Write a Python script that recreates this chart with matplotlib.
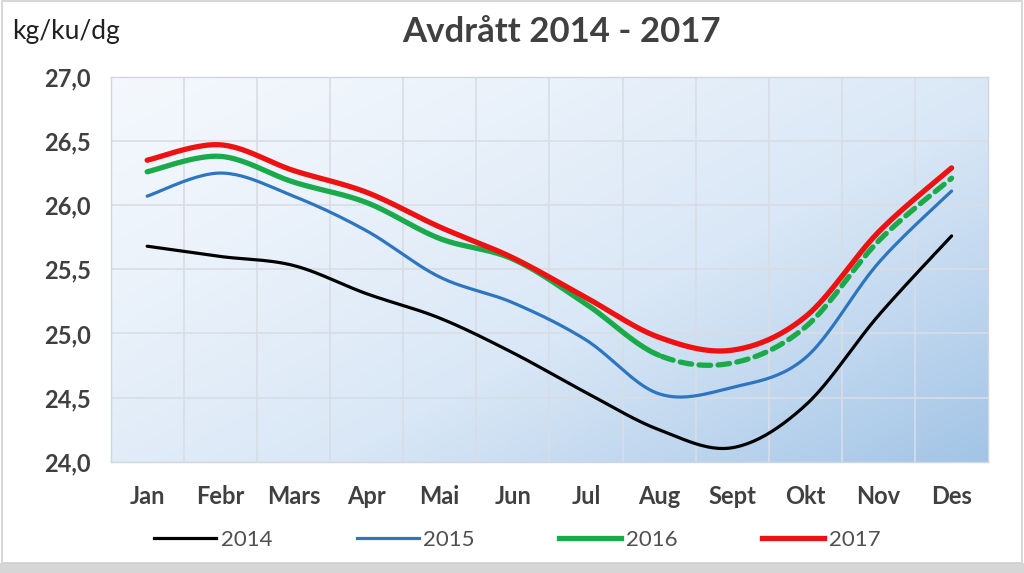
# Avdrått 2014 - 2017 : linjediagram med glattede kurver
import numpy as np
import matplotlib.pyplot as plt
from matplotlib.colors import LinearSegmentedColormap
from matplotlib.patches import Rectangle
from matplotlib.lines import Line2D

plt.rcParams['font.family'] = ['Lato', 'DejaVu Sans']

# data lest av figuren
maneder = ["Jan", "Febr", "Mars", "Apr", "Mai", "Jun", "Jul", "Aug", "Sept", "Okt", "Nov", "Des"]
aar_2014 = [25.68, 25.60, 25.53, 25.31, 25.12, 24.85, 24.54, 24.25, 24.11, 24.44, 25.14, 25.76]
aar_2015 = [26.07, 26.25, 26.07, 25.80, 25.44, 25.24, 24.95, 24.53, 24.58, 24.81, 25.55, 26.11]
aar_2016 = [26.26, 26.38, 26.18, 26.02, 25.74, 25.58, 25.23, 24.83, 24.77, 25.05, 25.72, 26.21]
aar_2017 = [26.35, 26.47, 26.27, 26.10, 25.83, 25.59, 25.28, 24.97, 24.87, 25.13, 25.79, 26.29]
start_prognose = 7  # 2016 stiplet fra Aug


def glatt(x, y, n=24):
    # Catmull-Rom, omtrent som Excel sin "glattet linje"
    pts = np.column_stack([x, y]).astype(float)
    p = np.vstack([pts[0], pts, pts[-1]])
    ut = []
    t = np.linspace(0, 1, n, endpoint=False)[:, None]
    for i in range(1, len(p) - 2):
        p0, p1, p2, p3 = p[i - 1], p[i], p[i + 1], p[i + 2]
        seg = 0.5 * (2 * p1 + (-p0 + p2) * t + (2 * p0 - 5 * p1 + 4 * p2 - p3) * t ** 2
                     + (-p0 + 3 * p1 - 3 * p2 + p3) * t ** 3)
        ut.append(seg)
    ut.append(p[-2][None])
    return np.vstack(ut)


fig = plt.figure(figsize=(10.24, 5.73), dpi=100)
fig.patch.set_facecolor('white')

# ramme og skygge
fig.add_artist(Rectangle((0.0, 0.0), 1.0, 0.017, transform=fig.transFigure,
                         facecolor='#d6d6d6', edgecolor='none'))
fig.add_artist(Rectangle((0.002, 0.017), 0.996, 0.981, transform=fig.transFigure,
                         facecolor='none', edgecolor='#d0d0d0', lw=1.2))

ax = fig.add_axes([0.108, 0.194, 0.857, 0.672])
x = np.arange(len(maneder))

# gradient bakgrunn
gx, gy = np.meshgrid(np.linspace(0, 1, 300), np.linspace(0, 1, 200))
tgrad = np.clip((0.55 * gx + 0.45 * gy) ** 1.3, 0, 1)
cmap = LinearSegmentedColormap.from_list('bg', ['#f4f8fd', '#d9e7f6', '#a2c4e6'])
ax.imshow(tgrad, extent=[-0.5, 11.5, 24, 27], origin='upper', aspect='auto',
          cmap=cmap, vmin=0, vmax=1, zorder=0)

# rutenett
for gxv in np.arange(0.5, 11.5, 1):
    ax.axvline(gxv, color='#d8dde5', lw=1.2, zorder=1)
for gyv in [24.5, 25.0, 25.5, 26.0, 26.5]:
    ax.axhline(gyv, color='#d8dde5', lw=1.2, zorder=1)

c = glatt(x, aar_2014)
ax.plot(c[:, 0], c[:, 1], color='black', lw=2.3, zorder=3, solid_capstyle='round')
c = glatt(x, aar_2015)
ax.plot(c[:, 0], c[:, 1], color='#2e75c0', lw=2.3, zorder=3, solid_capstyle='round')
c = glatt(x, aar_2016)
m = c[:, 0] <= start_prognose
ax.plot(c[m, 0], c[m, 1], color='#1aaa4a', lw=3.8, zorder=4, solid_capstyle='round')
ax.plot(c[~m, 0], c[~m, 1], color='#1aaa4a', lw=3.8, zorder=4, ls=(0, (2.2, 1.4)),
        dash_capstyle='round')
c = glatt(x, aar_2017)
ax.plot(c[:, 0], c[:, 1], color='#ee1111', lw=3.8, zorder=5, solid_capstyle='round')

ax.set_xlim(-0.5, 11.5)
ax.set_ylim(24, 27)
ax.set_xticks(x)
ax.set_xticklabels(maneder)
ax.set_yticks([24.0, 24.5, 25.0, 25.5, 26.0, 26.5, 27.0])
ax.set_yticklabels([f"{v:.1f}".replace('.', ',') for v in ax.get_yticks()])
ax.tick_params(length=0, labelsize=17, colors='#404040')
ax.tick_params(axis='x', pad=17)
ax.tick_params(axis='y', pad=14)
for lab in ax.get_xticklabels() + ax.get_yticklabels():
    lab.set_fontweight('bold')
for s in ax.spines.values():
    s.set_color('#d0d6de')
    s.set_linewidth(1)

fig.text(0.548, 0.945, "Avdrått 2014 - 2017", ha='center', va='center',
         fontsize=25, fontweight='bold', color='#404040')
fig.text(0.012, 0.945, "kg/ku/dg", ha='left', va='center', fontsize=19, color='#202020')

handles = [Line2D([], [], color='black', lw=2.3),
           Line2D([], [], color='#2e75c0', lw=2.3),
           Line2D([], [], color='#1aaa4a', lw=3.8),
           Line2D([], [], color='#ee1111', lw=3.8)]
fig.legend(handles, ["2014", "2015", "2016", "2017"], loc='center',
           bbox_to_anchor=(0.505, 0.058), ncol=4, frameon=False, fontsize=16,
           handlelength=2.8, handletextpad=0.2, columnspacing=3.8,
           labelcolor='#505050')

plt.savefig("out.png", dpi=100)
